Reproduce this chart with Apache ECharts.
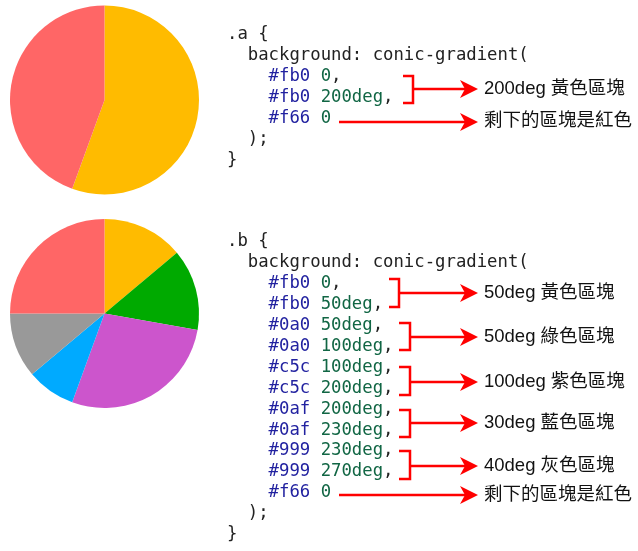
<!DOCTYPE html>
<html><head><meta charset="utf-8">
<script src="https://cdn.jsdelivr.net/npm/echarts@6/dist/echarts.min.js"></script>
<style>html,body{margin:0;padding:0;background:#fff}#c{width:638px;height:551px}</style>
</head><body><div id="c"></div>
<script>
// Pie A data (degrees)
const pieANames = ['黃色', '紅色'];
const pieAValues = [200, 160];
const pieAColors = ['#ffbb00', '#ff6666'];
// Pie B data (degrees)
const pieBNames = ['黃色', '綠色', '紫色', '藍色', '灰色', '紅色'];
const pieBValues = [50, 50, 100, 30, 40, 90];
const pieBColors = ['#ffbb00', '#00aa00', '#cc55cc', '#00aaff', '#999999', '#ff6666'];
// Code text
const codeA = ['.a {', '  background: conic-gradient(', '    #fb0 0,', '    #fb0 200deg,', '    #f66 0', '  );', '}'];
const codeB = ['.b {', '  background: conic-gradient(', '    #fb0 0,', '    #fb0 50deg,', '    #0a0 50deg,', '    #0a0 100deg,',
  '    #c5c 100deg,', '    #c5c 200deg,', '    #0af 200deg,', '    #0af 230deg,', '    #999 230deg,', '    #999 270deg,', '    #f66 0', '  );', '}'];
const labelsA = ['200deg 黃色區塊', '剩下的區塊是紅色'];
const labelsB = ['50deg 黃色區塊', '50deg 綠色區塊', '100deg 紫色區塊', '30deg 藍色區塊', '40deg 灰色區塊', '剩下的區塊是紅色'];

const chart = echarts.init(document.getElementById('c'));
const mono = '"DejaVu Sans Mono", "Liberation Mono", monospace';
const sans = '"Liberation Sans", Arial, "Noto Sans CJK TC", sans-serif';
const FS = 17.3;

function richLine(s) {
  return s.replace(/(#[0-9a-f]{3})|(\b\d+(?:deg)?)/g, (m, h, n) => h ? '{h|' + h + '}' : '{n|' + n + '}');
}
const graphics = [];
function addCode(lines, y0, step) {
  lines.forEach((l, i) => {
    graphics.push({
      type: 'text',
      style: {
        text: richLine(l), x: 227, y: y0 + i * step,
        verticalAlign: 'middle', align: 'left',
        font: FS + 'px ' + mono, fill: '#222',
        rich: { h: { fill: '#2222a0', fontFamily: mono, fontSize: FS }, n: { fill: '#116644', fontFamily: mono, fontSize: FS } }
      }
    });
  });
}
function addLabel(text, y) {
  graphics.push({ type: 'text', style: { text: text, x: 484, y: y, verticalAlign: 'middle', font: '18.5px ' + sans, fill: '#111' } });
}
const RED = '#ff0000';
function arrow(x1, y) {
  graphics.push({ type: 'line', shape: { x1: x1, y1: y, x2: 466, y2: y }, style: { stroke: RED, lineWidth: 2.5 } });
  graphics.push({ type: 'polygon', shape: { points: [[460, y - 9], [478, y], [460, y + 9], [465, y]] }, style: { fill: RED } });
}
function bracket(xl, xr, yt, yb, ya) {
  graphics.push({ type: 'polyline', shape: { points: [[xl, yt], [xr, yt], [xr, yb], [xl, yb]] }, style: { stroke: RED, lineWidth: 2.5, fill: null } });
  arrow(xr, ya);
}

addCode(codeA, 35, 21);
addCode(codeB, 242, 20.9);
bracket(403, 413, 76, 103, 89);
arrow(339, 122);
addLabel(labelsA[0], 89);
addLabel(labelsA[1], 121);

const bBr = [[389, 399, 279, 307, 293], [399, 410, 323, 350, 337], [399, 410, 367, 395, 382], [399, 410, 410, 437, 423], [399, 410, 451, 479, 466]];
bBr.forEach((b, i) => { bracket(b[0], b[1], b[2], b[3], b[4]); addLabel(labelsB[i], b[4]); });
arrow(339, 495);
addLabel(labelsB[5], 495);

function pieSeries(names, values, colors, cy) {
  return {
    type: 'pie', center: [104.5, cy], radius: [0, 94.5], startAngle: 90, clockwise: true,
    label: { show: false }, labelLine: { show: false }, silent: true, animation: false,
    itemStyle: { borderWidth: 0 },
    data: names.map((n, i) => ({ name: n, value: values[i], itemStyle: { color: colors[i] } }))
  };
}
chart.setOption({
  animation: false,
  series: [pieSeries(pieANames, pieAValues, pieAColors, 100), pieSeries(pieBNames, pieBValues, pieBColors, 313.5)],
  graphic: { elements: graphics }
});
</script></body></html>
